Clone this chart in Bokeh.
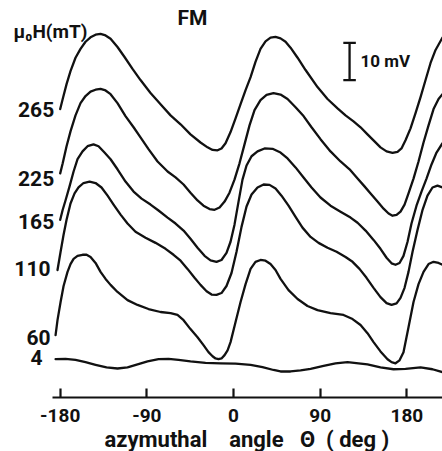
from bokeh.plotting import figure
from bokeh.models import Range1d, FixedTicker, Label, Title
from bokeh.embed import file_html
from bokeh.resources import INLINE

# ---- data (angle in deg, signal in mV, curves stacked as in the figure) ----
fields = ["265", "225", "165", "110", "60", "4"]

angle_265 = [-180, -177.4, -173.4, -169.3, -164.1, -158.9, -153.7, -148.5, -143.3, -138.1,
             -132.9, -127.7, -120.5, -113.2, -104.9, -96.6, -86.2, -75.8, -65.4, -55.0,
             -44.7, -34.3, -27.0, -21.8, -16.6, -12.5, -8.3, -3.1, 2.1, 7.3,
             12.5, 17.7, 22.8, 28.0, 33.2, 38.4, 43.6, 48.8, 54.0, 59.2,
             66.5, 74.8, 87.2, 97.6, 108.0, 116.3, 124.6, 131.9, 139.1, 146.4,
             152.6, 158.9, 165.1, 170.3, 174.4, 178.6, 183.8, 189.0, 194.2, 199.4,
             204.6, 209.8, 215.0, 217.0]
signal_265 = [77.6, 80.3, 84.3, 87.8, 91.4, 93.8, 95.7, 96.9, 97.6, 97.8,
              97.4, 96.5, 94.3, 91.6, 88.4, 85.4, 81.9, 78.9, 75.9, 73.5,
              70.8, 68.6, 67.3, 66.6, 66.5, 67.0, 68.4, 71.4, 75.1, 78.9,
              82.7, 86.2, 90.3, 93.8, 95.8, 96.8, 97.0, 96.6, 95.7, 94.1,
              91.4, 88.1, 83.5, 80.3, 77.8, 75.9, 74.3, 72.7, 70.8, 68.9,
              67.3, 66.2, 65.8, 66.1, 67.0, 69.2, 72.4, 76.5, 80.8, 85.4,
              90.0, 93.5, 95.9, 96.8]

angle_225 = [-180, -177.4, -173.4, -169.3, -164.1, -158.9, -153.7, -148.5, -143.3, -138.1,
             -132.9, -127.7, -120.5, -112.2, -103.8, -96.6, -88.3, -78.9, -68.5, -60.2,
             -51.9, -44.7, -37.4, -31.2, -24.9, -19.7, -14.5, -9.3, -4.2, 1.0,
             6.2, 11.4, 16.6, 21.8, 28.0, 34.3, 41.5, 48.8, 56.1, 64.4,
             72.7, 81.0, 90.3, 100.7, 111.1, 120.5, 128.8, 136.0, 142.3, 149.5,
             155.8, 161.0, 165.1, 169.3, 173.4, 177.6, 181.7, 186.9, 192.1, 197.3,
             202.5, 207.7, 212.9, 217.0]
signal_225 = [60.3, 63.0, 67.6, 71.6, 75.9, 79.2, 81.1, 82.3, 82.8, 83.0,
              82.6, 81.6, 79.2, 75.7, 72.7, 70.0, 66.8, 63.5, 60.8, 59.2,
              57.3, 55.1, 53.0, 51.6, 50.7, 50.5, 51.1, 52.7, 55.1, 58.6,
              63.0, 68.1, 73.2, 77.3, 80.0, 81.4, 81.9, 81.5, 80.3, 78.1,
              75.7, 72.7, 69.5, 66.2, 63.5, 61.4, 58.9, 56.8, 54.9, 52.7,
              50.8, 49.5, 48.9, 49.1, 50.0, 51.9, 54.9, 58.9, 63.5, 68.6,
              73.2, 77.6, 80.3, 81.6]

angle_165 = [-180, -177.4, -174.5, -170.3, -166.1, -162.0, -156.8, -151.6, -145.4, -140.2,
             -134.0, -127.7, -120.5, -112.2, -103.8, -95.5, -86.2, -77.9, -68.5, -60.2,
             -51.9, -44.7, -37.4, -30.1, -23.9, -17.7, -12.5, -7.3, -3.1, 1.0,
             5.2, 9.3, 13.5, 18.7, 24.9, 32.2, 40.5, 48.8, 56.1, 64.4,
             72.7, 81.0, 90.3, 100.7, 111.1, 121.5, 128.8, 137.1, 145.4, 152.6,
             158.9, 164.1, 168.2, 172.4, 176.5, 180.7, 184.8, 190.0, 195.2, 200.4,
             205.6, 210.8, 217.0]
signal_165 = [47.8, 50.5, 53.0, 56.8, 60.8, 64.1, 66.2, 67.6, 68.1, 67.6,
              65.9, 64.1, 61.4, 58.1, 55.4, 53.5, 51.9, 50.3, 48.4, 46.8,
              44.9, 42.7, 40.3, 38.1, 36.9, 36.5, 37.0, 38.9, 41.9, 46.5,
              52.7, 58.6, 62.4, 64.9, 66.2, 67.0, 66.9, 65.9, 64.3, 61.9,
              59.2, 56.5, 53.8, 51.6, 50.0, 48.4, 47.0, 44.9, 42.4, 40.0,
              37.6, 36.1, 35.7, 36.2, 38.1, 41.9, 46.8, 51.6, 55.4, 58.9,
              62.7, 65.9, 68.4]

angle_110 = [-182.8, -179.6, -176.5, -173.4, -169.3, -165.1, -161.0, -155.8, -149.5, -143.3,
             -137.1, -130.8, -124.6, -117.3, -110.1, -101.8, -91.4, -81.0, -70.6, -62.3,
             -55.0, -47.8, -40.5, -34.3, -28.0, -22.8, -17.7, -12.5, -7.3, -2.1,
             3.1, 8.3, 13.5, 18.7, 24.9, 31.2, 37.4, 43.6, 49.8, 57.1,
             64.4, 71.6, 80.0, 88.3, 97.6, 107.0, 116.3, 123.6, 130.8, 138.1,
             145.4, 152.6, 158.9, 164.1, 169.3, 173.4, 177.6, 181.7, 185.9, 191.1,
             196.3, 201.4, 206.6, 211.8, 217.0]
signal_110 = [34.3, 39.2, 43.8, 47.8, 52.2, 54.9, 56.5, 57.7, 58.1, 57.7,
              56.5, 54.3, 51.9, 49.2, 46.8, 44.6, 43.0, 41.6, 40.0, 38.4,
              36.8, 34.6, 32.2, 30.3, 28.6, 27.7, 27.6, 28.1, 30.0, 33.5,
              39.2, 45.9, 51.4, 54.6, 56.5, 57.3, 57.2, 56.2, 54.3, 51.6,
              48.6, 45.7, 43.2, 41.6, 40.3, 39.2, 37.8, 36.5, 34.6, 32.2,
              29.5, 27.0, 25.4, 24.9, 25.3, 26.8, 29.5, 33.8, 39.2, 45.1,
              50.5, 54.3, 56.5, 57.0, 56.5]

angle_60 = [-184.8, -182.8, -179.6, -176.5, -172.4, -169.3, -166.1, -162.0, -156.8, -152.6,
            -148.5, -143.3, -138.1, -132.9, -127.7, -120.5, -110.1, -99.7, -88.3, -75.8,
            -65.4, -58.2, -51.9, -44.7, -37.4, -31.2, -26.0, -21.8, -18.7, -15.6,
            -12.5, -9.3, -6.2, -3.1, 2.1, 7.3, 12.5, 17.7, 22.8, 28.0,
            33.2, 38.4, 43.6, 48.8, 57.1, 66.5, 76.8, 87.2, 100.7, 114.2,
            123.6, 131.9, 139.1, 145.4, 152.6, 159.9, 164.1, 168.2, 172.4, 176.5,
            181.7, 186.9, 192.1, 197.3, 202.5, 207.7, 212.9, 217.0]
signal_60 = [16.8, 20.8, 25.7, 30.0, 33.8, 35.9, 37.3, 38.1, 38.4, 38.4,
             37.8, 36.2, 33.8, 31.9, 30.3, 28.4, 26.2, 24.9, 23.8, 23.0,
             22.7, 22.2, 20.8, 18.4, 16.2, 14.1, 12.2, 11.1, 10.5, 10.3,
             10.5, 11.4, 12.7, 14.9, 20.3, 25.7, 30.5, 34.6, 36.5, 37.0,
             36.8, 35.9, 34.3, 31.9, 28.9, 26.5, 24.6, 23.5, 22.7, 22.2,
             21.1, 19.5, 17.3, 14.9, 12.4, 10.3, 9.5, 9.2, 10.0, 12.2,
             18.9, 25.7, 30.5, 33.8, 35.9, 36.5, 36.2, 35.7]

angle_4 = [-184.8, -174.5, -164.1, -153.7, -143.3, -131.9, -120.5, -110.1, -99.7, -89.3,
           -77.9, -67.5, -57.1, -44.7, -29.1, -13.5, 2.1, 17.7, 30.1, 41.5,
           48.8, 59.2, 69.6, 80.0, 93.5, 105.9, 118.4, 129.8, 139.1, 152.6,
           166.1, 178.6, 194.2, 206.6, 217.0]
signal_4 = [10.3, 10.4, 10.1, 9.5, 8.8, 8.1, 7.8, 8.1, 8.9, 9.7,
            10.3, 10.4, 10.1, 9.7, 9.3, 9.2, 9.1, 8.8, 8.2, 7.4,
            7.0, 7.0, 7.3, 7.7, 8.5, 9.2, 9.5, 9.2, 8.9, 8.1,
            7.6, 7.7, 8.1, 7.6, 6.8]

angles = [angle_265, angle_225, angle_165, angle_110, angle_60, angle_4]
signals = [signal_265, signal_225, signal_165, signal_110, signal_60, signal_4]

tick_values = [-180, -90, 0, 90, 180]
tick_labels = ["-180", "-90", "0", "90", "180"]

scale_bar_mV = 10
scale_bar_angle = 120.5
scale_bar_base = 85.4

# ---- styling ----
FONT = "Roboto"
INK = "#111111"
PX_PER_MV = 3.7

p = figure(width=442, height=451,
           x_range=Range1d(-242.0, 217.0), y_range=Range1d(0, 106.8),
           output_backend="svg", toolbar_location=None, y_axis_location=None,
           min_border_left=0, min_border_right=0, min_border_top=0, min_border_bottom=0)
p.outline_line_color = None
p.grid.visible = False
p.background_fill_color = "white"
p.border_fill_color = "white"

for xs, ys in zip(angles, signals):
    p.line(xs, ys, line_color=INK, line_width=2.3, line_join="round", line_cap="round")

# curve labels on the left, next to each curve's start (nudges in screen px)
label_dx_px = {"265": -6, "225": -6, "165": -6, "110": -7, "60": -5, "4": -13}
label_dy_px = {"265": 0.5, "225": 5.5, "165": 1.5, "110": -1.5, "60": 2.5, "4": -1.5}
for name, xs, ys in zip(fields, angles, signals):
    p.add_layout(Label(x=xs[0], y=ys[0] - label_dy_px[name] / PX_PER_MV, text=name,
                       x_offset=label_dx_px[name],
                       text_align="right", text_baseline="middle",
                       text_font=FONT, text_font_size="21px", text_font_style="bold",
                       text_color=INK))

p.add_layout(Label(x=-228.4, y=98.4, text="μ₀H(mT)", text_align="left", text_baseline="middle",
                   text_font=FONT, text_font_size="19px", text_font_style="bold", text_color=INK))
p.add_layout(Label(x=-42.6, y=102.0, text="FM", text_align="center", text_baseline="middle",
                   text_font=FONT, text_font_size="21px", text_font_style="bold", text_color=INK))

# scale bar
cap = 6.5
p.segment(x0=[scale_bar_angle, scale_bar_angle - cap, scale_bar_angle - cap],
          y0=[scale_bar_base, scale_bar_base, scale_bar_base + scale_bar_mV],
          x1=[scale_bar_angle, scale_bar_angle + cap, scale_bar_angle + cap],
          y1=[scale_bar_base + scale_bar_mV, scale_bar_base, scale_bar_base + scale_bar_mV],
          line_color=INK, line_width=2.3)
p.add_layout(Label(x=scale_bar_angle + 11.4, y=scale_bar_base + scale_bar_mV / 2, text="10 mV",
                   text_align="left", text_baseline="middle",
                   text_font=FONT, text_font_size="17px", text_font_style="bold", text_color=INK))

ax = p.xaxis[0]
ax.bounds = (-188, 217.0)
ax.ticker = FixedTicker(ticks=tick_values)
ax.major_label_overrides = dict(zip(tick_values, tick_labels))
ax.major_tick_in = 9
ax.major_tick_out = 0
ax.minor_tick_line_color = None
ax.axis_line_width = 2.2
ax.axis_line_color = INK
ax.major_tick_line_width = 2.2
ax.major_tick_line_color = INK
ax.major_label_text_font = FONT
ax.major_label_text_font_size = "19px"
ax.major_label_text_font_style = "bold"
ax.major_label_text_color = INK
ax.major_label_standoff = 11

NB = "\u00a0"
axis_title = Title(text=f"azymuthal{NB*4}angle{NB*3}Θ{NB*2}({NB}deg{NB})",
                   align="left", offset=104, standoff=0,
                   text_font=FONT, text_font_size="22px", text_font_style="bold", text_color=INK)
p.add_layout(axis_title, "below")

open("out.html", "w").write(file_html(p, INLINE))
